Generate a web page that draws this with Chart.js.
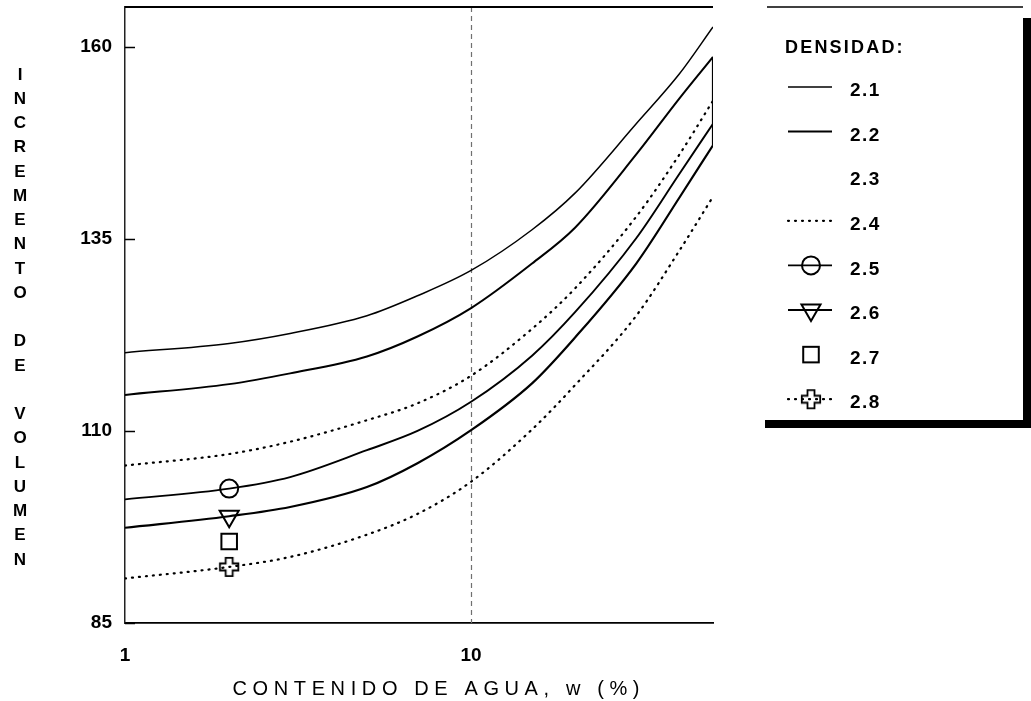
<!DOCTYPE html>
<html lang="es">
<head>
<meta charset="utf-8">
<title>Incremento de volumen y contenido de agua</title>
<script src="https://cdn.jsdelivr.net/npm/chart.js@4.4.1/dist/chart.umd.min.js"></script>
<style>
  html, body { margin: 0; padding: 0; background: #fff; }
  #wrap { width: 1031px; height: 701px; }
</style>
</head>
<body>
<div id="wrap"><canvas id="chart" width="1031" height="701"></canvas></div>
<script>
// Contenido de agua w (%) de los puntos de cada curva
const waterContent = [1, 2, 3, 5, 7, 10, 15, 20, 30, 40, 50];

// Incremento de volumen por densidad
const dens21 = [120.2, 121.4, 122.7, 125.0, 127.6, 130.9, 136.2, 141.0, 150.0, 156.5, 162.6];
const dens22 = [114.7, 116.1, 117.5, 119.7, 122.3, 126.0, 131.8, 136.5, 146.0, 153.3, 158.7];
const dens24 = [105.5, 107.0, 108.6, 111.4, 113.6, 117.2, 123.3, 128.6, 137.9, 146.0, 153.0];
const dens25 = [101.1, 102.5, 104.0, 107.5, 110.0, 113.8, 119.8, 125.5, 135.1, 143.5, 150.0];
const dens26 = [97.4, 98.9, 100.1, 102.7, 105.8, 110.1, 116.2, 122.2, 131.8, 140.4, 147.2];
const dens28 = [90.8, 92.3, 93.6, 96.5, 99.2, 103.4, 110.2, 116.0, 125.0, 133.5, 140.5];
const dens27Point = 95.6;

// Los símbolos se marcan en w = 2 %
const markerWater = 2;
// Trazo vertical que cierra las curvas en w = 50 %
const edgeWater = 50;
const edgeStroke = [147.2, 158.7];

const densityLabels = ['2.1', '2.2', '2.3', '2.4', '2.5', '2.6', '2.7', '2.8'];
const xTickValues = [1, 10];
const yTickValues = [85, 110, 135, 160];

const xAxisTitle = 'CONTENIDO DE AGUA, w (%)';
const yAxisTitle = 'INCREMENTO DE VOLUMEN';
const legendTitle = 'DENSIDAD:';

const FONT = '"Liberation Sans", Arial, Helvetica, sans-serif';
Chart.defaults.font.family = FONT;
Chart.defaults.color = '#000';

const toPoints = vals => vals.map((v, i) => ({ x: waterContent[i], y: v }));
const markerAt = r => c => (c.raw && c.raw.x === markerWater ? r : 0);

// Cruz hueca para la densidad 2.8
function hollowPlus(size, arm, lw) {
  const c = document.createElement('canvas');
  c.width = c.height = size;
  const g = c.getContext('2d');
  const m = size / 2, a = arm / 2, r = size / 2 - lw;
  g.beginPath();
  g.moveTo(m - a, m - r); g.lineTo(m + a, m - r); g.lineTo(m + a, m - a);
  g.lineTo(m + r, m - a); g.lineTo(m + r, m + a); g.lineTo(m + a, m + a);
  g.lineTo(m + a, m + r); g.lineTo(m - a, m + r); g.lineTo(m - a, m + a);
  g.lineTo(m - r, m + a); g.lineTo(m - r, m - a); g.lineTo(m - a, m - a);
  g.closePath();
  g.lineWidth = lw; g.strokeStyle = '#000'; g.stroke();
  return c;
}
const plusMark = hollowPlus(22, 7, 1.8);

const lineBase = {
  borderColor: '#000',
  backgroundColor: 'transparent',
  fill: false,
  cubicInterpolationMode: 'monotone',
  pointBorderColor: '#000',
  pointBackgroundColor: 'rgba(0,0,0,0)',
  pointBorderWidth: 2,
  pointRadius: 0,
  pointHoverRadius: 0
};
const DOTS = [1, 6];

const datasets = [
  { ...lineBase, label: '2.1', data: toPoints(dens21), borderWidth: 1.5 },
  { ...lineBase, label: '2.2', data: toPoints(dens22), borderWidth: 2 },
  { ...lineBase, label: '2.3', data: [], borderWidth: 0, showLine: false },
  { ...lineBase, label: '2.4', data: toPoints(dens24), borderWidth: 2.2, borderDash: DOTS, borderCapStyle: 'round' },
  { ...lineBase, label: '2.5', data: toPoints(dens25), borderWidth: 1.9,
    pointStyle: 'circle', pointRadius: markerAt(9), markerSize: 9 },
  { ...lineBase, label: '2.6', data: toPoints(dens26), borderWidth: 2.2,
    pointStyle: 'triangle', pointRotation: 180, pointRadius: markerAt(11), markerSize: 11 },
  { ...lineBase, label: '2.7', data: [{ x: markerWater, y: dens27Point }], showLine: false,
    pointStyle: 'rect', pointRadius: markerAt(11), markerSize: 11 },
  { ...lineBase, label: '2.8', data: toPoints(dens28), borderWidth: 2.2, borderDash: DOTS, borderCapStyle: 'round',
    pointStyle: plusMark, pointRadius: markerAt(10), markerSize: 10 },
  { ...lineBase, label: '', data: edgeStroke.map(v => ({ x: edgeWater, y: v })), borderWidth: 2.2,
    cubicInterpolationMode: 'default', tension: 0 }
];

function drawMarker(ctx, ds, cx, cy) {
  const st = ds.pointStyle;
  const r = ds.markerSize;
  ctx.save();
  ctx.lineWidth = 2;
  ctx.strokeStyle = '#000';
  if (st instanceof HTMLCanvasElement) {
    ctx.drawImage(st, cx - st.width / 2, cy - st.height / 2);
  } else if (st === 'circle') {
    ctx.beginPath(); ctx.arc(cx, cy, r, 0, Math.PI * 2); ctx.stroke();
  } else if (st === 'triangle') {
    ctx.beginPath();
    ctx.moveTo(cx, cy + r);
    ctx.lineTo(cx - r * 0.866, cy - r / 2);
    ctx.lineTo(cx + r * 0.866, cy - r / 2);
    ctx.closePath(); ctx.stroke();
  } else if (st === 'rect') {
    const h = r * Math.SQRT1_2;
    ctx.strokeRect(cx - h, cy - h, 2 * h, 2 * h);
  }
  ctx.restore();
}

function spacedText(ctx, text, x, y, spacing) {
  if ('letterSpacing' in ctx) {
    ctx.letterSpacing = spacing + 'px';
    ctx.fillText(text, x, y);
    ctx.letterSpacing = '0px';
  } else {
    ctx.fillText(text, x, y);
  }
}

const decor = {
  id: 'decor',
  beforeDatasetsDraw(chart) {
    const { ctx, chartArea: a, scales: { x } } = chart;
    ctx.save();
    ctx.strokeStyle = '#707070';
    ctx.lineWidth = 1.2;
    ctx.setLineDash([5, 4]);
    xTickValues.forEach(v => {
      if (v === x.min) return;
      const px = Math.round(x.getPixelForValue(v)) + 0.5;
      ctx.beginPath(); ctx.moveTo(px, a.top); ctx.lineTo(px, a.bottom); ctx.stroke();
    });
    ctx.restore();
  },
  afterDraw(chart) {
    const { ctx, chartArea: a, scales: { y } } = chart;
    ctx.save();
    ctx.fillStyle = '#000';
    ctx.strokeStyle = '#000';

    // marco superior
    ctx.lineWidth = 2;
    ctx.beginPath(); ctx.moveTo(a.left, a.top); ctx.lineTo(a.right, a.top); ctx.stroke();

    // marcas interiores del eje vertical
    ctx.lineWidth = 1.5;
    yTickValues.forEach(v => {
      const py = Math.round(y.getPixelForValue(v)) + 0.5;
      ctx.beginPath(); ctx.moveTo(a.left, py); ctx.lineTo(a.left + 10, py); ctx.stroke();
    });

    // título vertical, una letra por renglón
    const letters = [];
    yAxisTitle.split(' ').forEach((w, i) => { if (i) letters.push(''); letters.push(...w.split('')); });
    const yTop = 75, yBot = 560;
    const step = (yBot - yTop) / (letters.length - 1);
    ctx.font = 'bold 17px ' + FONT;
    ctx.textAlign = 'center';
    ctx.textBaseline = 'middle';
    letters.forEach((ch, i) => { if (ch) ctx.fillText(ch, 20, yTop + i * step); });

    // título horizontal
    ctx.font = '20px ' + FONT;
    ctx.textAlign = 'left';
    const natural = ctx.measureText(xAxisTitle).width;
    const targetW = 407;
    const sp = (targetW - natural) / (xAxisTitle.length - 1);
    spacedText(ctx, xAxisTitle, 436 - targetW / 2, 689, sp);

    // leyenda
    ctx.lineWidth = 1.5;
    ctx.beginPath(); ctx.moveTo(767, 7); ctx.lineTo(1023, 7); ctx.stroke();
    ctx.fillRect(1023, 18, 8, 410);
    ctx.fillRect(765, 420, 266, 8);

    ctx.font = 'bold 18px ' + FONT;
    ctx.textAlign = 'left';
    ctx.textBaseline = 'middle';
    spacedText(ctx, legendTitle, 785, 48, 2.2);

    const rowY0 = 91, rowStep = 44.6;
    densityLabels.forEach((lab, i) => {
      const ty = rowY0 + i * rowStep;
      const ly = ty - 4;
      const ds = chart.data.datasets.find(d => d.label === lab);
      ctx.font = 'bold 19px ' + FONT;
      spacedText(ctx, lab, 850, ty, 1.5);
      if (!ds) return;
      if (ds.showLine !== false && ds.data.length) {
        ctx.save();
        ctx.lineWidth = ds.borderWidth;
        ctx.setLineDash(ds.borderDash || []);
        ctx.lineCap = ds.borderCapStyle || 'butt';
        ctx.beginPath(); ctx.moveTo(788, ly); ctx.lineTo(832, ly); ctx.stroke();
        ctx.restore();
      }
      if (ds.markerSize) drawMarker(ctx, ds, 811, ly);
    });
    ctx.restore();
  }
};

new Chart(document.getElementById('chart'), {
  type: 'line',
  data: { datasets },
  plugins: [decor],
  options: {
    responsive: false,
    animation: false,
    events: [],
    layout: { autoPadding: false, padding: { left: 0, top: 7, right: 318, bottom: 0 } },
    plugins: { legend: { display: false }, tooltip: { enabled: false } },
    scales: {
      x: {
        type: 'logarithmic',
        min: 1,
        max: 50,
        afterBuildTicks: s => { s.ticks = xTickValues.map(v => ({ value: v })); },
        afterFit: s => { s.height = 78; s.paddingLeft = 0; s.paddingRight = 0; },
        ticks: {
          autoSkip: false, maxRotation: 0, padding: 21,
          font: { size: 19, weight: 'bold' }, color: '#000',
          callback: v => String(v)
        },
        grid: { display: false, drawTicks: false },
        border: { display: true, color: '#000', width: 1.8 }
      },
      y: {
        type: 'linear',
        min: 85,
        max: 165.2,
        afterBuildTicks: s => { s.ticks = yTickValues.map(v => ({ value: v })); },
        afterFit: s => { s.width = 125; s.paddingTop = 0; s.paddingBottom = 0; },
        ticks: {
          autoSkip: false, padding: 13,
          font: { size: 19, weight: 'bold' }, color: '#000',
          callback: v => String(v)
        },
        grid: { display: false, drawTicks: false },
        border: { display: true, color: '#222', width: 1.5 }
      }
    }
  }
});
</script>
</body>
</html>
